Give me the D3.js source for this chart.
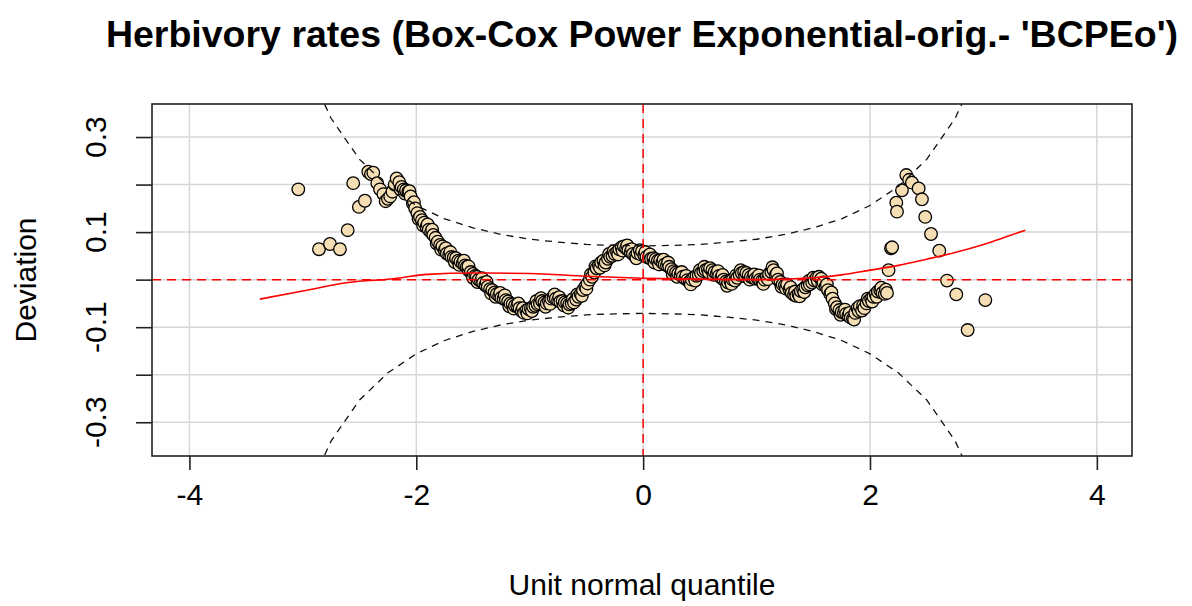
<!DOCTYPE html>
<html>
<head>
<meta charset="utf-8">
<script src="https://cdn.jsdelivr.net/npm/d3@7"></script>
<style>
  body { margin: 0; background: #fff; }
  svg { display: block; }
  text { font-family: "Liberation Sans", Arial, sans-serif; fill: #000; }
</style>
</head>
<body>
<svg id="chart" width="1192" height="606"></svg>
<script>
// ---- data ----
const title = "Herbivory rates (Box-Cox Power Exponential-orig.- 'BCPEo')";
const xLabel = "Unit normal quantile";
const yLabel = "Deviation";
const xTicks = [-4, -2, 0, 2, 4];
const yTicks = [-0.3, -0.2, -0.1, 0, 0.1, 0.2, 0.3];
const yTickLabels = [-0.3, -0.1, 0.1, 0.3];
const xGrid = [-4, -2, 0, 2, 4];
const yGrid = [-0.3, -0.2, -0.1, 0, 0.1, 0.2, 0.3];

// worm points: unit normal quantile and deviation
const quantiles = [
  -3.04, -2.858, -2.761, -2.673, -2.605, -2.556, -2.506, -2.453,
  -2.423, -2.40, -2.379, -2.344, -2.32, -2.29, -2.27, -2.25, -2.23, -2.21, -2.19, -2.173,
  -2.15, -2.129, -2.11, -2.09, -2.07, -2.05, -2.03, -2.01, -1.99, -1.967, -1.95, -1.93,
  -1.91, -1.89, -1.87, -1.85, -1.83, -1.81, -1.79, -1.77, -1.75, -1.73, -1.71, -1.69,
  -1.67, -1.65, -1.63, -1.61, -1.59, -1.57, -1.555, -1.54, -1.52, -1.50, -1.48, -1.467,
  -1.45, -1.43, -1.41, -1.39, -1.37, -1.35, -1.33, -1.31, -1.29, -1.27, -1.25, -1.23,
  -1.21, -1.19, -1.17, -1.15, -1.13, -1.11, -1.09, -1.07, -1.05, -1.03, -1.01, -0.99,
  -0.97, -0.95, -0.93, -0.91, -0.89, -0.87, -0.85, -0.83, -0.81, -0.79, -0.77, -0.75,
  -0.73, -0.71, -0.69, -0.67, -0.65, -0.63, -0.61, -0.59, -0.57, -0.55, -0.53, -0.51,
  -0.49, -0.47, -0.45, -0.43, -0.41, -0.39, -0.37, -0.35, -0.33, -0.31, -0.29, -0.27,
  -0.25, -0.23, -0.21, -0.19, -0.17, -0.15, -0.13, -0.11, -0.09, -0.07, -0.05, -0.03,
  -0.01, 0.01, 0.03, 0.05, 0.07, 0.09, 0.11, 0.13, 0.15, 0.17, 0.19, 0.21,
  0.23, 0.25, 0.27, 0.29, 0.31, 0.33, 0.35, 0.37, 0.39, 0.41, 0.43, 0.45,
  0.47, 0.49, 0.51, 0.53, 0.55, 0.57, 0.59, 0.61, 0.63, 0.65, 0.67, 0.69,
  0.71, 0.73, 0.75, 0.77, 0.79, 0.81, 0.83, 0.85, 0.87, 0.89, 0.91, 0.93,
  0.95, 0.97, 0.99, 1.01, 1.03, 1.05, 1.07, 1.09, 1.11, 1.13, 1.15, 1.17,
  1.19, 1.21, 1.23, 1.25, 1.27, 1.29, 1.31, 1.33, 1.35, 1.37, 1.39, 1.41,
  1.43, 1.45, 1.47, 1.49, 1.51, 1.53, 1.55, 1.57, 1.59, 1.61, 1.63, 1.65,
  1.67, 1.69, 1.71, 1.73, 1.75, 1.77, 1.79, 1.81, 1.83, 1.85, 1.87, 1.89,
  1.91, 1.93, 1.95, 1.97, 1.99, 2.01, 2.03, 2.05, 2.07, 2.09, 2.11, 2.13,
  2.15, 2.164, 2.185, 2.195, 2.232, 2.238, 2.282, 2.32, 2.345, 2.37, 2.429, 2.458,
  2.487, 2.538, 2.611, 2.679, 2.761, 2.861, 3.017
];
const deviations = [
  0.190, 0.064, 0.075, 0.064, 0.104, 0.203, 0.153, 0.166,
  0.227, 0.222, 0.225, 0.203, 0.190, 0.180, 0.165, 0.170, 0.175, 0.185, 0.200, 0.213,
  0.205, 0.195, 0.190, 0.188, 0.185, 0.175, 0.160, 0.150, 0.140, 0.132, 0.125, 0.120,
  0.111, 0.105, 0.100, 0.094, 0.088, 0.080, 0.073, 0.070, 0.062, 0.055, 0.052, 0.048,
  0.046, 0.045, 0.040, 0.038, 0.034, 0.030, 0.027, 0.020, 0.016, 0.012, 0.008, 0.006,
  0.000, -0.003, -0.007, -0.012, -0.015, -0.020, -0.022, -0.027, -0.030, -0.034, -0.038, -0.040,
  -0.043, -0.046, -0.050, -0.052, -0.055, -0.056, -0.060, -0.066, -0.070, -0.065, -0.062, -0.060,
  -0.057, -0.055, -0.052, -0.050, -0.045, -0.048, -0.050, -0.046, -0.040, -0.038, -0.040, -0.044,
  -0.046, -0.045, -0.048, -0.050, -0.052, -0.050, -0.048, -0.042, -0.036, -0.030, -0.022, -0.015,
  -0.008, 0.000, 0.006, 0.015, 0.024, 0.030, 0.036, 0.040, 0.036, 0.044, 0.048, 0.050,
  0.054, 0.058, 0.064, 0.068, 0.070, 0.066, 0.062, 0.058, 0.054, 0.050, 0.056, 0.062,
  0.060, 0.052, 0.048, 0.046, 0.044, 0.045, 0.043, 0.040, 0.041, 0.036, 0.032, 0.030,
  0.027, 0.022, 0.018, 0.015, 0.013, 0.010, 0.006, 0.002, -0.001, -0.004, 0.000, 0.005,
  0.008, 0.010, 0.014, 0.018, 0.020, 0.022, 0.024, 0.020, 0.016, 0.013, 0.008, 0.004,
  0.000, -0.004, -0.006, -0.003, 0.000, -0.002, 0.004, 0.010, 0.014, 0.016, 0.014, 0.010,
  0.006, 0.004, 0.002, 0.003, 0.000, -0.002, 0.000, 0.006, 0.012, 0.016, 0.020, 0.010,
  0.000, -0.005, -0.010, -0.012, -0.010, -0.020, -0.028, -0.032, -0.034, -0.030, -0.024, -0.020,
  -0.016, -0.012, -0.010, -0.006, -0.002, 0.004, 0.006, 0.002, -0.006, -0.014, -0.022, -0.030,
  -0.040, -0.050, -0.058, -0.064, -0.068, -0.070, -0.072, -0.076, -0.080, -0.082, -0.070, -0.060,
  -0.056, -0.065, -0.060, -0.050, -0.045, -0.040, -0.036, -0.030, -0.025, -0.022, -0.028, -0.030,
  -0.028, 0.020, 0.066, 0.068, 0.162, 0.143, 0.188, 0.220, 0.210, 0.204, 0.192, 0.169,
  0.132, 0.096, 0.061, -0.002, -0.031, -0.106, -0.043
];
// further worm points lying on either side of the main trail
const quantilesB = [
  -2.14, -2.10, -2.06, -2.02, -1.98, -1.94, -1.90, -1.86, -1.82, -1.78, -1.74, -1.70,
  -1.66, -1.62, -1.58, -1.54, -1.50, -1.46, -1.42, -1.38, -1.34, -1.30, -1.26, -1.22,
  -1.18, -1.14, -1.10, -1.06, -1.02, -0.98, -0.94, -0.90, -0.86, -0.82, -0.78, -0.74,
  -0.70, -0.66, -0.62, -0.58, -0.54, -0.50, -0.46, -0.42, -0.38, -0.34, -0.30, -0.26,
  -0.22, -0.18, -0.14, -0.10, -0.06, -0.02, 0.02, 0.06, 0.10, 0.14, 0.18, 0.22,
  0.26, 0.30, 0.34, 0.38, 0.42, 0.46, 0.50, 0.54, 0.58, 0.62, 0.66, 0.70,
  0.74, 0.78, 0.82, 0.86, 0.90, 0.94, 0.98, 1.02, 1.06, 1.10, 1.14, 1.18,
  1.22, 1.26, 1.30, 1.34, 1.38, 1.42, 1.46, 1.50, 1.54, 1.58, 1.62, 1.66,
  1.70, 1.74, 1.78, 1.82, 1.86, 1.90, 1.94, 1.98, 2.02, 2.06, 2.10, 2.14
];
const deviationsB = [
  0.190, 0.181, 0.186, 0.163, 0.128, 0.114, 0.116, 0.105, 0.076, 0.063, 0.066, 0.058,
  0.037, 0.031, 0.040, 0.028, 0.004, -0.005, 0.003, -0.005, -0.029, -0.036, -0.028, -0.033,
  -0.056, -0.061, -0.050, -0.060, -0.071, -0.066, -0.045, -0.039, -0.057, -0.051, -0.031, -0.037,
  -0.054, -0.059, -0.041, -0.031, -0.034, -0.019, 0.011, 0.028, 0.025, 0.030, 0.054, 0.060,
  0.053, 0.061, 0.072, 0.064, 0.045, 0.053, 0.058, 0.053, 0.036, 0.032, 0.042, 0.036,
  0.012, 0.006, 0.016, 0.008, -0.010, -0.002, 0.020, 0.027, 0.015, 0.010, 0.018, 0.010,
  -0.013, -0.009, 0.009, 0.020, 0.007, 0.000, 0.011, 0.009, -0.009, 0.001, 0.026, 0.013,
  -0.015, -0.019, -0.016, -0.025, -0.035, -0.026, -0.003, 0.004, -0.003, -0.010, -0.010, -0.027,
  -0.062, -0.074, -0.063, -0.070, -0.084, -0.066, -0.054, -0.040, -0.046, -0.036, -0.017, -0.021
];

// fitted worm curve (red)
const fitQuantiles = [-3.38, -3.0, -2.6, -2.2, -1.9, -1.5, -1.0, -0.5, 0, 0.5, 1.0, 1.5, 1.75, 2.0, 2.25, 2.5, 2.75, 3.0, 3.2, 3.37];
const fitDeviations = [-0.041, -0.024, -0.006, 0.002, 0.011, 0.014, 0.013, 0.007, 0.003, 0.001, 0.000, 0.004, 0.010, 0.020, 0.030, 0.043, 0.057, 0.074, 0.090, 0.104];

// confidence band (black dashed), symmetric about zero
const bandQuantiles = [-3.0, -2.75, -2.5, -2.25, -2.0, -1.75, -1.5, -1.25, -1.0, -0.75, -0.5, -0.25, 0,
                       0.25, 0.5, 0.75, 1.0, 1.25, 1.5, 1.75, 2.0, 2.25, 2.5, 2.75, 3.0];
const bandUpper = [0.468, 0.339, 0.253, 0.196, 0.156, 0.128, 0.109, 0.095, 0.085, 0.079, 0.074, 0.072, 0.071,
                   0.072, 0.074, 0.079, 0.085, 0.095, 0.109, 0.128, 0.156, 0.196, 0.253, 0.339, 0.468];

// ---- drawing ----
const svg = d3.select("#chart");
const plot = { left: 152, right: 1132, top: 104, bottom: 456 };

const x = d3.scaleLinear().domain([-4.33, 4.31]).range([plot.left, plot.right]);
const y = d3.scaleLinear().domain([-0.371, 0.3695]).range([plot.bottom, plot.top]);
const fmtMinus = s => s.replace("\u2212", "-");

svg.append("defs").append("clipPath").attr("id", "clip")
  .append("rect")
  .attr("x", plot.left).attr("y", plot.top)
  .attr("width", plot.right - plot.left).attr("height", plot.bottom - plot.top);

const g = svg.append("g").attr("clip-path", "url(#clip)");

// grid
g.selectAll(".vgrid").data(xGrid).enter().append("line")
  .attr("x1", d => x(d)).attr("x2", d => x(d))
  .attr("y1", plot.top).attr("y2", plot.bottom)
  .attr("stroke", "#d6d6d6").attr("stroke-width", 1.5);
g.selectAll(".hgrid").data(yGrid).enter().append("line")
  .attr("y1", d => y(d)).attr("y2", d => y(d))
  .attr("x1", plot.left).attr("x2", plot.right)
  .attr("stroke", "#d6d6d6").attr("stroke-width", 1.5);

// points (sorted by quantile, as in the original plot)
const pts = quantiles.map((q, i) => ({ q, d: deviations[i] }))
  .concat(quantilesB.map((q, i) => ({ q, d: deviationsB[i] })))
  .sort((a, b) => a.q - b.q);
g.selectAll(".pt").data(pts).enter().append("circle")
  .attr("cx", p => x(p.q)).attr("cy", p => y(p.d))
  .attr("r", 6.3)
  .attr("fill", "#F5DEB3").attr("stroke", "#000").attr("stroke-width", 1.3);

// bands
const bandLine = d3.line().x(d => x(d[0])).y(d => y(d[1]));
g.append("path")
  .attr("d", bandLine(bandQuantiles.map((q, i) => [q, bandUpper[i]])))
  .attr("fill", "none").attr("stroke", "#111").attr("stroke-width", 1.3).attr("stroke-dasharray", "7,6");
g.append("path")
  .attr("d", bandLine(bandQuantiles.map((q, i) => [q, -bandUpper[i]])))
  .attr("fill", "none").attr("stroke", "#111").attr("stroke-width", 1.3).attr("stroke-dasharray", "7,6");

// zero lines
g.append("line")
  .attr("x1", plot.left).attr("x2", plot.right).attr("y1", y(0)).attr("y2", y(0))
  .attr("stroke", "#ff0000").attr("stroke-width", 1.5).attr("stroke-dasharray", "9,6");
g.append("line")
  .attr("x1", x(0)).attr("x2", x(0)).attr("y1", plot.top).attr("y2", plot.bottom)
  .attr("stroke", "#ff0000").attr("stroke-width", 1.5).attr("stroke-dasharray", "9,6");

// fitted curve
g.append("path")
  .attr("d", d3.line().x(d => x(d[0])).y(d => y(d[1])).curve(d3.curveMonotoneX)(fitQuantiles.map((q, i) => [q, fitDeviations[i]])))
  .attr("fill", "none").attr("stroke", "#ff0000").attr("stroke-width", 1.6);

// frame
svg.append("rect")
  .attr("x", plot.left).attr("y", plot.top)
  .attr("width", plot.right - plot.left).attr("height", plot.bottom - plot.top)
  .attr("fill", "none").attr("stroke", "#222").attr("stroke-width", 1.6);

// x axis
const xAxis = d3.axisBottom(x).tickValues(xTicks).tickSize(14).tickPadding(14)
  .tickFormat(d => fmtMinus(d3.format("d")(d)));
const gx = svg.append("g").attr("transform", `translate(0,${plot.bottom})`).call(xAxis);
gx.select(".domain").remove();
gx.selectAll(".tick line").attr("stroke", "#222").attr("stroke-width", 1.6);
gx.selectAll(".tick text").attr("font-size", 30).attr("font-family", "Liberation Sans, Arial, sans-serif").attr("fill", "#000");

// y axis
const yAxis = d3.axisLeft(y).tickValues(yTicks).tickSize(16).tickFormat("");
const gy = svg.append("g").attr("transform", `translate(${plot.left},0)`).call(yAxis);
gy.select(".domain").remove();
gy.selectAll(".tick line").attr("stroke", "#222").attr("stroke-width", 1.6);

svg.selectAll(".ylab").data(yTickLabels).enter().append("text")
  .attr("transform", d => `translate(106,${y(d)}) rotate(-90)`)
  .attr("text-anchor", "middle")
  .attr("font-size", 30)
  .text(d => fmtMinus(d3.format(".1f")(d)));

// labels
svg.append("text").attr("x", (plot.left + plot.right) / 2).attr("y", 47)
  .attr("text-anchor", "middle").attr("font-size", 37.5).attr("font-weight", "bold")
  .text(title);
svg.append("text").attr("x", (plot.left + plot.right) / 2).attr("y", 595)
  .attr("text-anchor", "middle").attr("font-size", 30)
  .text(xLabel);
svg.append("text").attr("transform", `translate(36,${(plot.top + plot.bottom) / 2}) rotate(-90)`)
  .attr("text-anchor", "middle").attr("font-size", 30)
  .text(yLabel);
</script>
</body>
</html>
